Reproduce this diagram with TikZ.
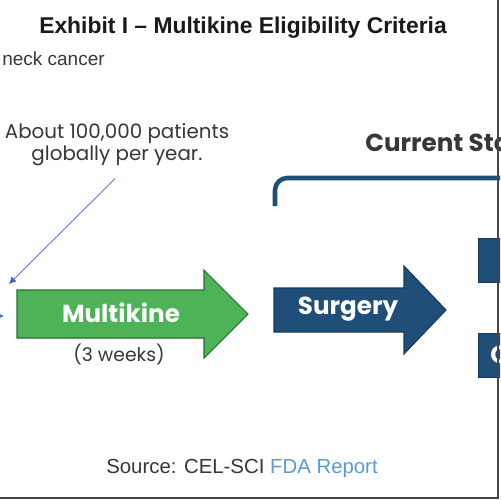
\documentclass[tikz,border=0pt]{standalone}
\usepackage{fontspec}
\setmainfont{Liberation Sans}
\newfontfamily\popfont{Poppins}
\usetikzlibrary{arrows.meta,positioning,calc}
\definecolor{cGreen}{RGB}{78,178,86}
\definecolor{cGreenDk}{RGB}{40,110,50}
\definecolor{cNavy}{RGB}{31,78,121}
\definecolor{cNavyDk}{RGB}{22,58,92}
\definecolor{cPtr}{RGB}{110,140,220}
\definecolor{cPtrTip}{RGB}{60,100,200}
\definecolor{cLink}{RGB}{90,155,213}
\definecolor{cText}{RGB}{55,55,55}
\definecolor{cFrame}{RGB}{70,70,70}
\tikzset{
  titletext/.style={font=\fontsize{13}{15}\selectfont\bfseries,text=black!90},
  notetext/.style={font=\fontsize{10.8}{12}\selectfont,text=cText},
  calltext/.style={font=\popfont\fontsize{11.3}{12.6}\selectfont,text=cText,
                   align=center},
  headtext/.style={font=\popfont\fontsize{14}{16}\selectfont\bfseries,text=cText},
  arrtext/.style={font=\popfont\fontsize{14}{16}\selectfont\bfseries,text=white},
  subtext/.style={font=\popfont\fontsize{10.7}{12}\selectfont,text=cText},
  srctext/.style={font=\fontsize{11.6}{13}\selectfont,text=cText},
  greenarr/.style={fill=cGreen,draw=cGreenDk,line width=0.6pt,line join=miter},
  navyarr/.style={fill=cNavy,draw=cNavyDk,line width=0.6pt,line join=miter},
  navybox/.style={rectangle,fill=cNavy,draw=cNavyDk,line width=0.5pt,
                  inner sep=0pt,anchor=north west},
  bracket/.style={draw=cNavy,line width=2.6pt,rounded corners=7pt},
  ptrarr/.style={-{Latex[length=4pt,width=4pt]},draw=cPtr,line width=0.4pt,
                 color=cPtrTip},
  frameline/.style={draw=cFrame,line width=1.4pt}
}
\begin{document}
\begin{tikzpicture}[x=0.02cm,y=-0.02cm]

  \useasboundingbox (0,0) rectangle (500,500);
  \clip (0,0) rectangle (500,500);

  \node[titletext] (title) at (243,28)
      {Exhibit I -- Multikine Eligibility Criteria};
  \node[notetext,anchor=west,inner sep=0pt] (neck) at (2,59) {neck cancer};

  \node[calltext,inner sep=0pt] (patients) at (117,145)
      {About 100,000 patients\\globally per year.};

  \coordinate (ptrend) at (9,284);
  \coordinate (ptrfrom) at (-20,316);
  \coordinate (ptrtip) at (4,316);
  \draw[ptrarr] ($(patients.south)+(-2,12)$) -- (ptrend);
  \draw[ptrarr] (ptrfrom) -- (ptrtip);

  % treatment arrows
  \draw[greenarr] (17,290) -- (204,290) -- (204,270) -- (248,314)
      -- (204,358) -- (204,338) -- (17,338) -- cycle;
  \node[arrtext] (mult) at (121,313) {Multikine};
  \node[subtext] (weeks) at (119,354) {(3 weeks)};

  \draw[navyarr] (274,288) -- (404,288) -- (404,266) -- (446,310)
      -- (404,354) -- (404,332) -- (274,332) -- cycle;
  \node[arrtext] (surg) at (348,309) {Surgery};

  % current standard
  \node[headtext,anchor=west,inner sep=0pt] (current) at (365,143) {Current Sta};
  \coordinate (brk) at (275,206);
  \coordinate (brkend) at (520,178);
  \draw[bracket] (brk) |- (brkend);

  \node[navybox,minimum width=0.7cm,minimum height=0.88cm] (radbox) at (478,238) {};
  \node[navybox,minimum width=0.7cm,minimum height=0.88cm] (chembox) at (478,333) {};
  \node[arrtext,anchor=west,inner sep=0pt] (chem) at (490,355) {C};

  % source
  \node[srctext] (source) at (242,468)
      {Source: CEL-SCI \textcolor{cLink}{FDA Report}};

  \coordinate (fr1) at (498,0);
  \coordinate (fr2) at (498,498);
  \coordinate (fr3) at (0,498);
  \draw[frameline] (fr1) -- (fr2) -- (fr3);

\end{tikzpicture}
\end{document}
